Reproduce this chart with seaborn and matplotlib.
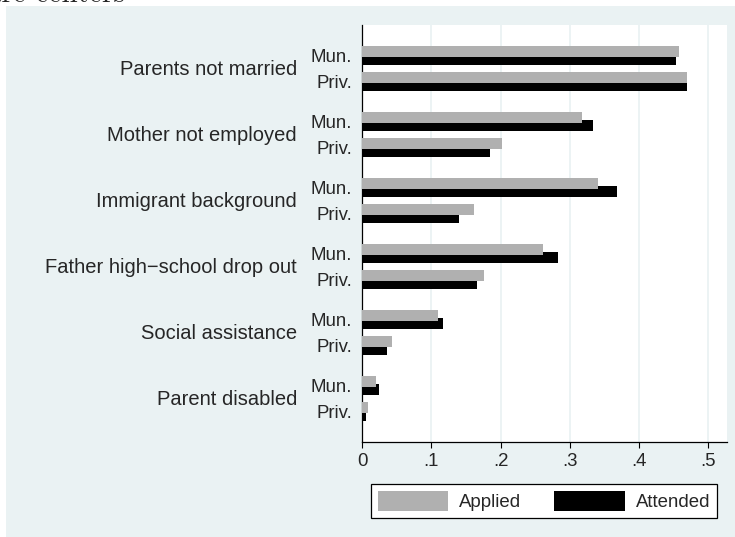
import pandas as pd
import matplotlib.pyplot as plt
import seaborn as sns
from matplotlib.patches import Patch, Rectangle

categories = ["Parents not married", "Mother not employed", "Immigrant background",
              "Father high\u2212school drop out", "Social assistance", "Parent disabled"]
sectors = ["Mun.", "Priv."]
series = ["Applied", "Attended"]

applied_mun = [0.457, 0.317, 0.341, 0.261, 0.110, 0.020]
attended_mun = [0.453, 0.333, 0.368, 0.283, 0.117, 0.024]
applied_priv = [0.469, 0.202, 0.162, 0.176, 0.043, 0.009]
attended_priv = [0.469, 0.185, 0.140, 0.166, 0.036, 0.006]

values = {
    ("Mun.", "Applied"): applied_mun,
    ("Mun.", "Attended"): attended_mun,
    ("Priv.", "Applied"): applied_priv,
    ("Priv.", "Attended"): attended_priv,
}

# vertical layout in pixel rows of the axes (top = 25, bottom = 442)
rows = []
for i, cat in enumerate(categories):
    for j, sec in enumerate(sectors):
        for k, ser in enumerate(series):
            rows.append({"category": cat, "sector": sec, "series": ser,
                         "value": values[(sec, ser)][i],
                         "pos": 51.5 + 66 * i + 26 * j + 8 * k})
df = pd.DataFrame(rows)

sns.set_theme(style="white")
plt.rcParams["font.family"] = ["Liberation Sans", "DejaVu Sans"]

W, H = 735, 537
fig = plt.figure(figsize=(W / 100, H / 100), dpi=100)
fig.patch.set_facecolor("white")
fig.patches.append(Rectangle((6 / W, 0), 1 - 6 / W, 1 - 6 / H, transform=fig.transFigure,
                             facecolor="#eaf2f3", edgecolor="none", zorder=-1))

ax = fig.add_axes([362 / W, 1 - 442 / H, (727 - 362) / W, (442 - 25) / H])
ax.set_facecolor("white")

colors = {"Applied": "#b0b0b0", "Attended": "#000000"}
# attended first so the grey bars sit on top
for ser in ["Attended", "Applied"]:
    sub = df[df["series"] == ser]
    sns.barplot(data=sub, x="value", y="pos", orient="h", native_scale=True,
                color=colors[ser], width=11 / 26, errorbar=None, ax=ax,
                saturation=1, linewidth=0, zorder=3)

ax.set_xlim(0, 0.5267)
ax.set_ylim(442, 25)
ax.set_xlabel("")
ax.set_ylabel("")

xticks = [0, 0.1, 0.2, 0.3, 0.4, 0.5]
ax.set_xticks(xticks)
ax.set_xticklabels(["0", ".1", ".2", ".3", ".4", ".5"])
for t in xticks[1:]:
    ax.axvline(t, color="#eaf2f3", lw=1.3, zorder=1)

label_pos = []
label_txt = []
for i in range(len(categories)):
    for j, sec in enumerate(sectors):
        label_pos.append(55.5 + 66 * i + 26 * j)
        label_txt.append(sec)
ax.set_yticks(label_pos)
ax.set_yticklabels(label_txt)

ax.tick_params(axis="x", length=4.5, width=0.8, color="black", pad=3.5, labelsize=13.4,
               bottom=True)
ax.tick_params(axis="y", length=0, pad=7, labelsize=13.4)

for i, cat in enumerate(categories):
    ax.text(-(362 - 297) / (727 - 362), 69.5 + 66 * i, cat, ha="right", va="center",
            fontsize=14.5, transform=ax.get_yaxis_transform())

for s in ["top", "right"]:
    ax.spines[s].set_visible(False)
for s in ["left", "bottom"]:
    ax.spines[s].set_color("black")
    ax.spines[s].set_linewidth(0.9)

handles = [Patch(facecolor=colors[s], edgecolor="none", label=s) for s in series]
leg = fig.legend(handles=handles, ncol=2, loc="center",
                 bbox_to_anchor=(544 / W, 1 - 501 / H), fontsize=13.4,
                 handlelength=3.8, handleheight=1.35, handletextpad=0.6,
                 columnspacing=1.75, borderpad=0.35, fancybox=False,
                 framealpha=1, edgecolor="black")
leg.get_frame().set_linewidth(0.9)

# title cut off at the top edge
fig.text(125 / W, 1 - 2 / H, "care centers", ha="right", va="baseline",
         fontsize=21, family="cmr10")

fig.savefig("out.png", dpi=100)
